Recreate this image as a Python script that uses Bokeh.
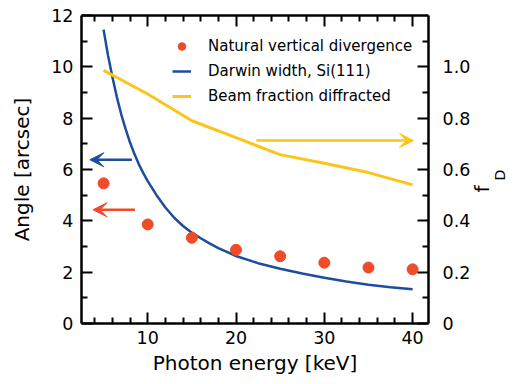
from math import pi
from bokeh.plotting import figure
from bokeh.models import (Range1d, LinearAxis, FixedTicker, Arrow, VeeHead,
                          CustomJSTickFormatter, Legend, LegendItem)
from bokeh.embed import file_html
from bokeh.resources import INLINE

# ---- data ----
energy_pts = [5, 10, 15, 20, 25, 30, 35, 40]
natural_div = [5.46, 3.86, 3.34, 2.87, 2.62, 2.37, 2.18, 2.11]
beam_fraction = [0.986, 0.894, 0.790, 0.724, 0.658, 0.624, 0.588, 0.540]
darwin_energy = [5, 5.5, 6, 6.5, 7, 7.5, 8, 8.5, 9, 9.5, 10, 11, 12, 13, 14, 15, 16, 17, 18,
                 20, 22.5, 25, 27.5, 30, 32.5, 35, 37.5, 40]
darwin_width = [11.45, 10.45, 9.6, 8.83, 8.15, 7.57, 7.05, 6.6, 6.2, 5.86, 5.55, 5.0, 4.52,
                4.12, 3.8, 3.54, 3.32, 3.12, 2.94, 2.63, 2.35, 2.13, 1.95, 1.78, 1.64, 1.51,
                1.41, 1.33]

x_major = [10, 20, 30, 40]
x_minor = [4, 6, 8, 12, 14, 16, 18, 22, 24, 26, 28, 32, 34, 36, 38]
y_major = [0, 2, 4, 6, 8, 10, 12]
y_minor = [1, 3, 5, 7, 9, 11]
f_major = [0, 0.2, 0.4, 0.6, 0.8, 1.0]
f_minor = [0.1, 0.3, 0.5, 0.7, 0.9, 1.1]
f_labels = ["0", "0.2", "0.4", "0.6", "0.8", "1.0"]

# arrows: (x_start, x_end, y)
blue_arrow = (8.2, 3.45, 6.38)
red_arrow = (8.55, 3.8, 4.43)
yellow_arrow = (22.3, 40.1, 0.713)

# where the pieces of the right-hand title "f_D" sit along the right axis
title_f_at = 0.51
title_d_at = 0.557

RED = "#ef4b29"
BLUE = "#1c4e9d"
YELLOW = "#fbc51c"
FONT = "DejaVu Sans"

p = figure(width=519, height=384, x_range=Range1d(2.5, 41.8), y_range=Range1d(0, 12),
           output_backend="svg", toolbar_location=None,
           min_border_left=81, min_border_right=88, min_border_top=15, min_border_bottom=61,
           x_axis_location=None, y_axis_location=None)
p.extra_y_ranges = {"fD": Range1d(0, 1.2)}
p.xgrid.visible = False
p.ygrid.visible = False
p.outline_line_color = None
p.background_fill_color = "white"
p.border_fill_color = "white"


def style(ax, labels=True):
    ax.axis_line_width = 2.5
    ax.axis_line_color = "black"
    ax.major_tick_in = 11
    ax.major_tick_out = 0
    ax.minor_tick_in = 6
    ax.minor_tick_out = 0
    ax.major_tick_line_width = 2
    ax.minor_tick_line_width = 2
    ax.major_tick_line_color = "black"
    ax.minor_tick_line_color = "black"
    ax.major_label_text_font = FONT
    ax.major_label_text_font_size = "17.5px" if labels else "0px"
    ax.major_label_text_color = "black"
    ax.axis_label_text_font = FONT
    ax.axis_label_text_font_size = "20px"
    ax.axis_label_text_font_style = "normal"
    ax.axis_label_text_color = "black"


def title_piece(pos, text, size, standoff):
    ax = LinearAxis(y_range_name="fD", ticker=FixedTicker(ticks=[pos], minor_ticks=[]),
                    major_label_overrides={pos: text})
    ax.axis_line_color = None
    ax.major_tick_line_color = None
    ax.minor_tick_line_color = None
    ax.major_tick_in = 0
    ax.major_tick_out = 0
    ax.minor_tick_in = 0
    ax.minor_tick_out = 0
    ax.major_label_orientation = pi / 2
    ax.major_label_text_font = FONT
    ax.major_label_text_font_size = size
    ax.major_label_text_color = "black"
    ax.major_label_standoff = standoff
    return ax


xb = LinearAxis(ticker=FixedTicker(ticks=x_major, minor_ticks=x_minor),
                axis_label="Photon energy [keV]")
style(xb)
xb.major_label_standoff = 7
xb.axis_label_standoff = 4
p.add_layout(xb, "below")

xt = LinearAxis(ticker=FixedTicker(ticks=x_major, minor_ticks=x_minor),
                formatter=CustomJSTickFormatter(code="return ''"))
style(xt, labels=False)
xt.major_label_standoff = 0
p.add_layout(xt, "above")

yl = LinearAxis(ticker=FixedTicker(ticks=y_major, minor_ticks=y_minor),
                axis_label="Angle [arcsec]")
style(yl)
yl.major_label_standoff = 8
yl.axis_label_standoff = 14
p.add_layout(yl, "left")

yr = LinearAxis(y_range_name="fD", ticker=FixedTicker(ticks=f_major, minor_ticks=f_minor),
                major_label_overrides={v: s for v, s in zip(f_major, f_labels)})
style(yr)
yr.major_label_standoff = 14
p.add_layout(yr, "right")

# right axis title "f" with subscript "D" (read bottom to top)
p.add_layout(title_piece(title_f_at, "f", "20px", 9), "right")
p.add_layout(title_piece(title_d_at, "D", "14px", -9), "right")

# ---- data glyphs ----
r_darwin = p.line(darwin_energy, darwin_width, line_color=BLUE, line_width=2.5)
r_beam = p.line(energy_pts, beam_fraction, y_range_name="fD", line_color=YELLOW, line_width=3)
r_dots = p.scatter(energy_pts, natural_div, size=11, fill_color=RED, line_color=RED)

# ---- arrows ----
for (xs, xe, yy), col, rng in [(blue_arrow, BLUE, "default"), (red_arrow, RED, "default"),
                               (yellow_arrow, YELLOW, "fD")]:
    p.add_layout(Arrow(x_start=xs, y_start=yy, x_end=xe, y_end=yy, y_range_name=rng,
                       line_color=col, line_width=2.5,
                       end=VeeHead(size=14, fill_color=col, line_color=col, line_width=1)))

# ---- legend ----
legend = Legend(items=[LegendItem(label="Natural vertical divergence", renderers=[r_dots]),
                       LegendItem(label="Darwin width, Si(111)", renderers=[r_darwin]),
                       LegendItem(label="Beam fraction diffracted", renderers=[r_beam])],
                location=(91, 216), orientation="vertical",
                glyph_width=19, glyph_height=22, label_height=22, spacing=3,
                label_standoff=17, padding=0, margin=0,
                border_line_color=None, background_fill_alpha=0,
                label_text_font=FONT, label_text_font_size="15px", label_text_color="black")
p.add_layout(legend, "center")

open("out.html", "w").write(file_html(p, INLINE))
